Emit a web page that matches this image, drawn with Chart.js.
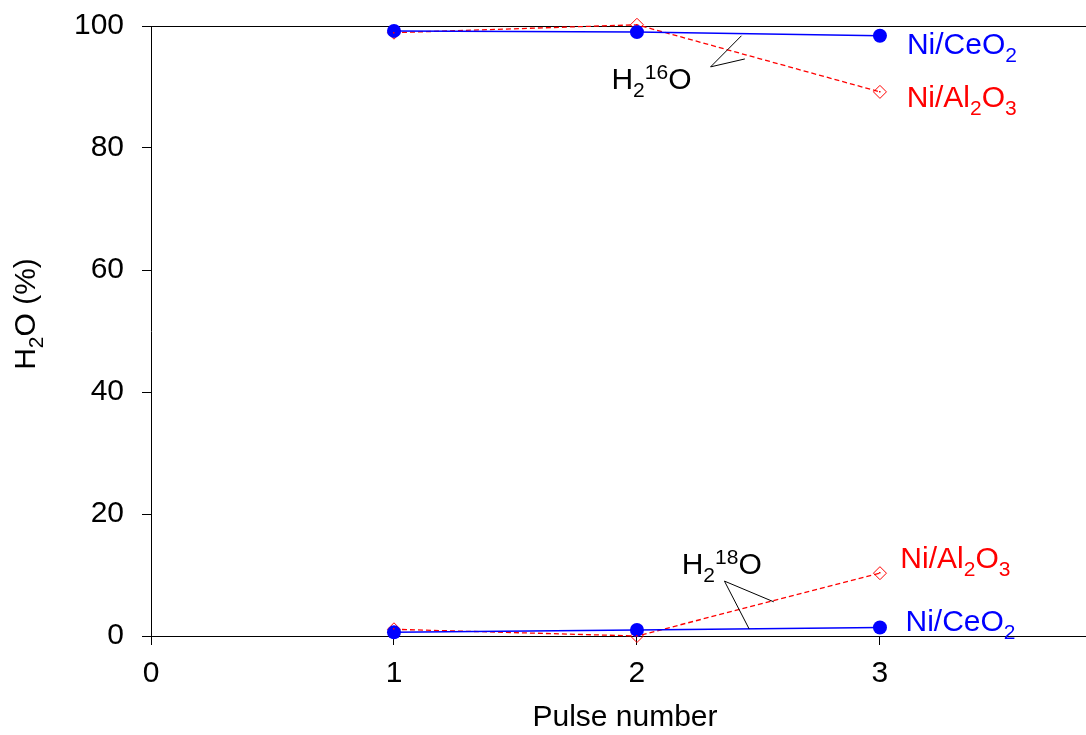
<!DOCTYPE html>
<html>
<head>
<meta charset="utf-8">
<script src="https://cdn.jsdelivr.net/npm/chart.js@4/dist/chart.umd.min.js"></script>
<style>
  body { margin: 0; background: #fff; }
  #wrap { width: 1086px; height: 735px; }
</style>
</head>
<body>
<div id="wrap"><canvas id="chart" width="1086" height="735"></canvas></div>
<script>
// данные графика
const pulses = [1, 2, 3]
const ceo2H216O = [99.2, 99.0, 98.4]
const al2o3H216O = [98.9, 100.2, 89.2]
const ceo2H218O = [0.6, 1.0, 1.4]
const al2o3H218O = [1.1, 0.0, 10.3]
const xTicks = [0, 1, 2, 3]
const yTicks = [0, 20, 40, 60, 80, 100]

const BLUE = "#0000ff"
const RED = "#ff0000"
const FONT = '"Liberation Sans", Arial, sans-serif'

// подписи на графике (в координатах данных)
const notes = [
  { x: 3.111, y: 95.4, color: BLUE, parts: [["Ni/CeO"], ["2", "sub"]] },
  { x: 3.110, y: 86.7, color: RED, parts: [["Ni/Al"], ["2", "sub"], ["O"], ["3", "sub"]] },
  { x: 1.895, y: 89.6, color: "#000", parts: [["H"], ["2", "sub"], ["16", "sup"], ["O"]] },
  { x: 2.184, y: 10.2, color: "#000", parts: [["H"], ["2", "sub"], ["18", "sup"], ["O"]] },
  { x: 3.084, y: 11.2, color: RED, parts: [["Ni/Al"], ["2", "sub"], ["O"], ["3", "sub"]] },
  { x: 3.105, y: 0.8, color: BLUE, parts: [["Ni/CeO"], ["2", "sub"]] },
]

// выноски
const leaders = [
  [[2.303, 93.3], [2.430, 98.4]],
  [[2.303, 93.3], [2.444, 94.6]],
  [[2.360, 9.0], [2.462, 1.13]],
  [[2.360, 9.0], [2.563, 5.6]],
]


// точки серии
function points(values) {
  return pulses.map(function (p, i) {
    return { x: p, y: values[i] }
  })
}


// ширина текста с индексами
function richWidth(ctx, parts) {
  let w = 0
  parts.forEach(function (p) {
    ctx.font = (p[1] ? 21 : 30) + "px " + FONT
    w += ctx.measureText(p[0]).width
  })
  return w
}


// текст с индексами
function drawRich(ctx, parts, x, y, color) {
  ctx.fillStyle = color
  ctx.textAlign = "left"
  ctx.textBaseline = "alphabetic"
  parts.forEach(function (p) {
    let dy = 0
    if (p[1] === "sub") dy = 8
    if (p[1] === "sup") dy = -10
    ctx.font = (p[1] ? 21 : 30) + "px " + FONT
    ctx.fillText(p[0], x, y + dy)
    x += ctx.measureText(p[0]).width
  })
}


// дополнительная отрисовка
const extras = {
  id: "extras",
  afterDraw: function (chart) {
    const ctx = chart.ctx
    const xs = chart.scales.x
    const ys = chart.scales.y

    ctx.save()

    // точки внутри ромбов
    ;[2, 3].forEach(function (di) {
      chart.getDatasetMeta(di).data.forEach(function (pt) {
        ctx.fillStyle = RED
        ctx.fillRect(Math.round(pt.x) - 1, Math.round(pt.y) - 1, 1.5, 1.5)
      })
    })

    // выноски
    ctx.strokeStyle = "#000"
    ctx.lineWidth = 1
    leaders.forEach(function (l) {
      ctx.beginPath()
      ctx.moveTo(xs.getPixelForValue(l[0][0]), ys.getPixelForValue(l[0][1]))
      ctx.lineTo(xs.getPixelForValue(l[1][0]), ys.getPixelForValue(l[1][1]))
      ctx.stroke()
    })

    // подписи
    notes.forEach(function (n) {
      drawRich(ctx, n.parts, xs.getPixelForValue(n.x), ys.getPixelForValue(n.y), n.color)
    })

    // подпись оси Y
    const yTitle = [["H"], ["2", "sub"], ["O (%)"]]
    ctx.translate(35, 314)
    ctx.rotate(-Math.PI / 2)
    drawRich(ctx, yTitle, -richWidth(ctx, yTitle) / 2, 0, "#000")
    ctx.restore()

    // подпись оси X
    ctx.save()
    ctx.font = "30px " + FONT
    ctx.fillStyle = "#000"
    ctx.textAlign = "center"
    ctx.textBaseline = "alphabetic"
    ctx.fillText("Pulse number", 625, 726)
    ctx.restore()
  },
}


// создаём график
new Chart(document.getElementById("chart"), {
  type: "scatter",
  data: {
    datasets: [
      {
        data: points(ceo2H216O),
        borderColor: BLUE,
        backgroundColor: BLUE,
        borderWidth: 1.5,
        pointRadius: 7,
        pointBorderWidth: 0,
        showLine: true,
        clip: false,
      },
      {
        data: points(ceo2H218O),
        borderColor: BLUE,
        backgroundColor: BLUE,
        borderWidth: 1.5,
        pointRadius: 7,
        pointBorderWidth: 0,
        showLine: true,
        clip: false,
      },
      {
        data: points(al2o3H216O),
        borderColor: RED,
        backgroundColor: "rgba(0,0,0,0)",
        borderWidth: 1.3,
        borderDash: [5, 3],
        pointStyle: "rectRot",
        pointRadius: 6.5,
        pointBorderWidth: 1,
        showLine: true,
        clip: false,
      },
      {
        data: points(al2o3H218O),
        borderColor: RED,
        backgroundColor: "rgba(0,0,0,0)",
        borderWidth: 1.3,
        borderDash: [5, 3],
        pointStyle: "rectRot",
        pointRadius: 6.5,
        pointBorderWidth: 1,
        showLine: true,
        clip: false,
      },
    ],
  },
  options: {
    responsive: false,
    animation: false,
    layout: { autoPadding: false, padding: { top: 26, right: 0, left: 0, bottom: 0 } },
    plugins: { legend: { display: false }, tooltip: { enabled: false } },
    scales: {
      x: {
        type: "linear",
        min: 0,
        max: 3.848,
        afterBuildTicks: function (scale) {
          scale.ticks = xTicks.map(function (v) { return { value: v } })
        },
        afterFit: function (scale) {
          scale.height = 99
          scale.paddingLeft = 0
          scale.paddingRight = 0
        },
        border: { color: "#000", width: 1 },
        grid: { drawOnChartArea: false, tickLength: 9, tickColor: "#000" },
        ticks: { color: "#000", font: { family: FONT, size: 30 }, padding: 11, maxRotation: 0 },
      },
      y: {
        min: 0,
        max: 100,
        afterBuildTicks: function (scale) {
          scale.ticks = yTicks.map(function (v) { return { value: v } })
        },
        afterFit: function (scale) {
          scale.width = 151
          scale.paddingTop = 0
          scale.paddingBottom = 0
        },
        border: { color: "#000", width: 1 },
        grid: {
          color: function (c) { return c.tick && c.tick.value === 100 ? "#000" : "rgba(0,0,0,0)" },
          tickLength: 9,
          tickColor: "#000",
        },
        ticks: { color: "#000", font: { family: FONT, size: 30 }, padding: 18 },
      },
    },
  },
  plugins: [extras],
})
</script>
</body>
</html>
